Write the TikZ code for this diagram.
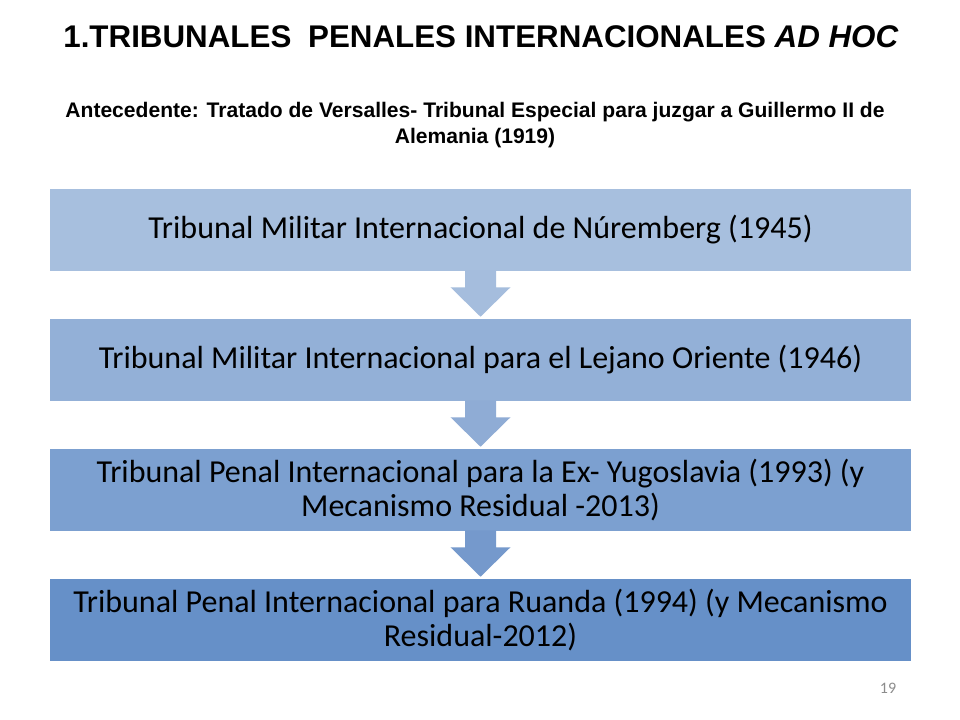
\documentclass[tikz,border=0pt]{standalone}
\usepackage{fontspec}
\setmainfont{Liberation Sans}
\newfontfamily\calib{Carlito}
\usetikzlibrary{calc}
\definecolor{cone}{HTML}{A7BFDE}
\definecolor{ctwo}{HTML}{93B0D7}
\definecolor{cthree}{HTML}{7CA0D0}
\definecolor{cfour}{HTML}{6690C8}
\definecolor{aone}{HTML}{A5BDDD}
\definecolor{atwo}{HTML}{8FACD5}
\definecolor{athree}{HTML}{7599CC}
\definecolor{pgnum}{HTML}{8C8C8C}
\tikzset{
  stage/.style={rectangle, inner sep=0pt, minimum width=645.75pt, minimum height=61.5pt,
    align=center, font=\calib\fontsize{24}{25.5}\selectfont, text=black},
  titletext/.style={font=\bfseries\fontsize{23.5}{26}\selectfont, inner sep=0pt},
  subtext/.style={font=\bfseries\fontsize{15.8}{20}\selectfont, inner sep=0pt, align=center},
}
\newcommand{\downarrowshape}[3]{%
  \fill[#3] ($(#1.south)+(-15.5,-1)$) -- ++(0,17) -- ++(-14.5,0) -- ($(#2.north)+(0,-2)$)
    -- ($(#1.south)+(30,16)$) -- ++(-14.5,0) -- ++(0,-17) -- cycle;}
\begin{document}
\begin{tikzpicture}[x=0.75pt,y=-0.75pt]
\useasboundingbox[fill=white] (0,0) rectangle (960,720);
\node[titletext, anchor=base] (title) at (481,48) {1.TRIBUNALES\hspace{6pt} PENALES INTERNACIONALES \textit{AD HOC}};
\node[subtext, anchor=base] (sub) at (475,144) {Antecedente: Tratado de Versalles- Tribunal Especial para juzgar a Guillermo II de\\Alemania (1919)};
\node[stage, fill=cone] (b1) at (480.5,230) {Tribunal Militar Internacional de Núremberg (1945)};
\node[stage, fill=ctwo] (b2) at (480.5,360) {Tribunal Militar Internacional para el Lejano Oriente (1946)};
\node[stage, fill=cthree] (b3) at (480.5,490) {Tribunal Penal Internacional para la Ex- Yugoslavia (1993) (y\\Mecanismo Residual -2013)};
\node[stage, fill=cfour] (b4) at (480.5,620) {Tribunal Penal Internacional para Ruanda (1994) (y Mecanismo\\Residual-2012)};
\downarrowshape{b1}{b2}{aone}
\downarrowshape{b2}{b3}{atwo}
\downarrowshape{b3}{b4}{athree}
\node[font=\calib\fontsize{12}{14}\selectfont, text=pgnum, inner sep=0pt] (pg) at (888,688) {19};
\end{tikzpicture}
\end{document}
